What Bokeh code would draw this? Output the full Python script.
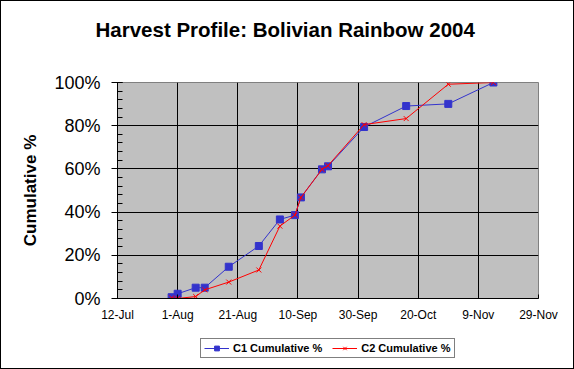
import pandas as pd
from bokeh.plotting import figure
from bokeh.layouts import column
from bokeh.models import (Range1d, FixedTicker, SingleIntervalTicker, PrintfTickFormatter,
                          Legend, LegendItem)
from bokeh.embed import file_html
from bokeh.resources import INLINE

# ---- data ----
harvest_dates = ["2004-07-30", "2004-08-01", "2004-08-07", "2004-08-10", "2004-08-18",
                 "2004-08-28", "2004-09-04", "2004-09-09", "2004-09-11", "2004-09-18",
                 "2004-09-20", "2004-10-02", "2004-10-16", "2004-10-30", "2004-11-14"]
c1_cumulative = [0.6, 2.2, 5.0, 5.0, 14.7, 24.3, 36.6, 38.6, 46.8, 59.8, 61.2, 79.4, 89.1, 90.1, 100.0]
c2_cumulative = [0.3, 0.0, 0.9, 4.0, 7.6, 13.2, 33.5, 38.6, 46.8, 59.8, 61.5, 80.5, 83.3, 99.2, 100.0]

tick_dates = ["2004-07-12", "2004-08-01", "2004-08-21", "2004-09-10", "2004-09-30",
              "2004-10-20", "2004-11-09", "2004-11-29"]
tick_labels = ["12-Jul", "1-Aug", "21-Aug", "10-Sep", "30-Sep", "20-Oct", "9-Nov", "29-Nov"]

title_text = "Harvest Profile: Bolivian Rainbow 2004"
series_names = ["C1 Cumulative %", "C2 Cumulative %"]
c1_color = "#3333CC"
c2_color = "#FF0000"

FONT = "Liberation Sans"
W = 572

x = pd.to_datetime(harvest_dates)
tick_ms = [int(pd.Timestamp(d).value // 10**6) for d in tick_dates]

# ---- title strip ----
top = figure(width=W, height=60, output_backend="svg", toolbar_location=None,
             title=title_text, x_axis_location=None, y_axis_location=None,
             x_range=Range1d(0, 1), y_range=Range1d(0, 1), min_border=0)
top.grid.visible = False
top.outline_line_color = None
top.background_fill_color = "white"
top.border_fill_color = "white"
top.title.align = "left"
top.title.offset = -22
top.title.standoff = 28
top.title.text_font = FONT
top.title.text_font_size = "20.5px"
top.title.text_font_style = "bold"
top.title.text_color = "black"

# ---- main chart ----
p = figure(width=W, height=266, x_axis_type="datetime",
           output_backend="svg", toolbar_location=None, title=None,
           x_range=Range1d(tick_ms[0], tick_ms[-1]), y_range=Range1d(0, 100),
           min_border_left=116, min_border_right=35, min_border_top=21, min_border_bottom=29)
p.background_fill_color = "#C0C0C0"
p.border_fill_color = "white"
p.outline_line_color = "#808080"

xt = FixedTicker(ticks=tick_ms)
xa = p.xaxis[0]
xa.ticker = xt
xa.major_label_overrides = {t: lab for t, lab in zip(tick_ms, tick_labels)}
xa.axis_line_color = "black"
xa.major_tick_in = 4
xa.major_tick_out = 0
xa.minor_tick_line_color = None
xa.major_label_text_font = FONT
xa.major_label_text_font_size = "12px"
xa.major_label_text_color = "black"
xa.major_label_standoff = 9

ya = p.yaxis[0]
ya.ticker = SingleIntervalTicker(interval=20, num_minor_ticks=5)
ya.formatter = PrintfTickFormatter(format="%d%%")
ya.axis_line_color = "black"
ya.major_tick_out = 6
ya.major_tick_in = 5
ya.minor_tick_in = 5
ya.minor_tick_out = 0
ya.major_label_text_font = FONT
ya.major_label_text_font_size = "18px"
ya.major_label_text_color = "black"
ya.major_label_standoff = 11
ya.axis_label = "Cumulative %"
ya.axis_label_text_font = FONT
ya.axis_label_text_font_size = "17px"
ya.axis_label_text_font_style = "bold"
ya.axis_label_text_color = "black"
ya.axis_label_standoff = 11

p.xgrid.ticker = xt
p.xgrid.grid_line_color = "black"
p.ygrid.grid_line_color = "black"

p.line(x, c1_cumulative, line_color=c1_color, line_width=1)
p.scatter(x, c1_cumulative, marker="square", size=7, fill_color=c1_color, line_color=c1_color)
p.line(x, c2_cumulative, line_color=c2_color, line_width=1)
p.scatter(x, c2_cumulative, marker="x", size=7, line_color=c2_color, line_width=1)

# ---- legend strip (same series, drawn outside this strip's visible range) ----
leg = figure(width=W, height=41, output_backend="svg", toolbar_location=None,
             title=None, x_axis_location=None, y_axis_location=None,
             x_range=Range1d(0, 1), y_range=Range1d(0, 1), min_border=0)
leg.grid.visible = False
leg.outline_line_color = None
leg.background_fill_color = "white"
leg.border_fill_color = "white"
g1l = leg.line(x, c1_cumulative, line_color=c1_color, line_width=1)
g1s = leg.scatter(x, c1_cumulative, marker="square", size=7, fill_color=c1_color, line_color=c1_color)
g2l = leg.line(x, c2_cumulative, line_color=c2_color, line_width=1)
g2s = leg.scatter(x, c2_cumulative, marker="x", size=6, line_color=c2_color, line_width=1)
legend = Legend(items=[LegendItem(label=series_names[0], renderers=[g1l, g1s]),
                       LegendItem(label=series_names[1], renderers=[g2l, g2s])],
                orientation="horizontal", location=(83, 10),
                border_line_color="black", border_line_width=1,
                background_fill_color="white", background_fill_alpha=1,
                label_text_font=FONT, label_text_font_size="11px",
                label_text_font_style="bold", label_text_color="black",
                glyph_width=25, glyph_height=12, label_standoff=4, spacing=10,
                padding=3, margin=0, label_height=12)
leg.add_layout(legend)

page = column(top, p, leg, spacing=0, styles={"border": "1px solid black"})

open("out.html", "w").write(file_html(page, INLINE))
